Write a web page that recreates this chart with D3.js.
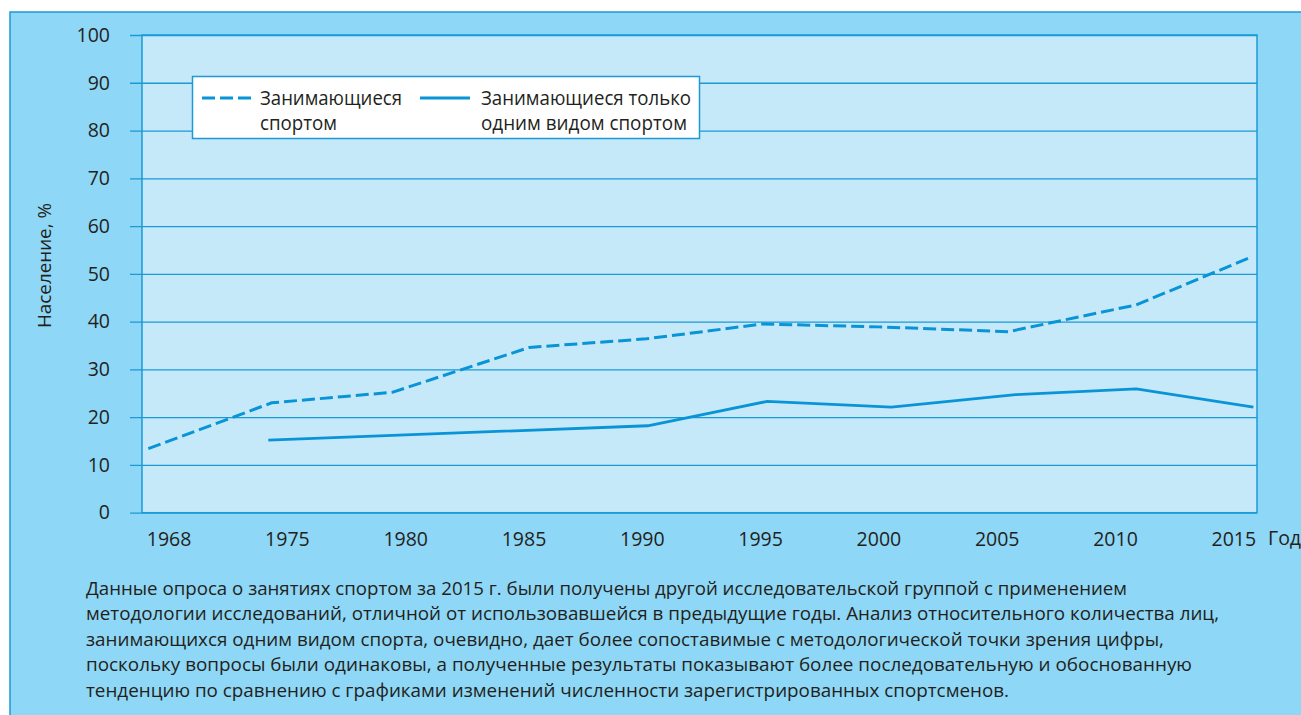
<!DOCTYPE html>
<html>
<head>
<meta charset="utf-8">
<script src="https://cdn.jsdelivr.net/npm/d3@7"></script>
<style>
  html, body { margin: 0; padding: 0; background: #fff; }
  svg { display: block; }
  text { font-family: "Open Sans", "Noto Sans", sans-serif; fill: #231f20; }
</style>
</head>
<body>
<svg id="chart" width="1301" height="715"></svg>
<script>
// tick labels of the year axis (evenly spaced in the original)
const yearTicks = [1968, 1975, 1980, 1985, 1990, 1995, 2000, 2005, 2010, 2015];
const valueTicks = [0, 10, 20, 30, 40, 50, 60, 70, 80, 90, 100];

// "Занимающиеся спортом" (dashed)
const allSportYears = [1966.8, 1974.1, 1979.45, 1985.25, 1990.2, 1995.1, 2000, 2005.5, 2010.9, 2015.65];
const allSportValues = [13.4, 23.0, 25.2, 34.6, 36.4, 39.5, 38.9, 37.9, 43.5, 53.3];

// "Занимающиеся только одним видом спортом" (solid)
const oneSportYears = [1973.9, 1990.25, 1995.3, 2000.55, 2005.8, 2010.9, 2015.85];
const oneSportValues = [15.2, 18.2, 23.3, 22.1, 24.7, 25.9, 22.1];

const legendLabels = [['Занимающиеся', 'спортом'], ['Занимающиеся только', 'одним видом спортом']];
const noteLines = [
  'Данные опроса о занятиях спортом за 2015 г. были получены другой исследовательской группой с применением',
  'методологии исследований, отличной от использовавшейся в предыдущие годы. Анализ относительного количества лиц,',
  'занимающихся одним видом спорта, очевидно, дает более сопоставимые с методологической точки зрения цифры,',
  'поскольку вопросы были одинаковы, а полученные результаты показывают более последовательную и обоснованную',
  'тенденцию по сравнению с графиками изменений численности зарегистрированных спортсменов.'
];

const blue = '#1b9ad6';
const lineBlue = '#0894d6';
const plot = {left: 142, right: 1257, top: 35, bottom: 512.7};

const svg = d3.select('#chart');

// outer panel
svg.append('rect')
  .attr('x', 10).attr('y', 12)
  .attr('width', 1320).attr('height', 720)
  .attr('fill', '#8ed7f6')
  .attr('stroke', blue).attr('stroke-width', 1.5);

svg.append('rect')
  .attr('x', plot.left).attr('y', plot.top)
  .attr('width', plot.right - plot.left).attr('height', plot.bottom - plot.top)
  .attr('fill', '#c6e9f9')
  .attr('stroke', blue).attr('stroke-width', 1.5);

const step = 118.3;
const x = d3.scaleLinear()
  .domain(yearTicks)
  .range(yearTicks.map((d, i) => 168.6 + i * step));
const y = d3.scaleLinear().domain([0, 100]).range([plot.bottom, plot.top]);

// y axis with full-width gridlines
const yAxis = svg.append('g')
  .attr('transform', 'translate(' + plot.right + ',0)')
  .call(d3.axisLeft(y).tickValues(valueTicks)
    .tickSize(plot.right - 130).tickPadding(20));
yAxis.select('.domain').remove();
yAxis.selectAll('line').attr('stroke', blue).attr('stroke-width', 1.3);
yAxis.selectAll('text')
  .attr('font-size', 19.5)
  .attr('font-family', '"Open Sans", sans-serif')
  .attr('fill', '#231f20');

const xAxis = svg.append('g')
  .attr('transform', 'translate(0,' + plot.bottom + ')')
  .call(d3.axisBottom(x).tickValues(yearTicks).tickFormat(d3.format('d'))
    .tickSize(0).tickPadding(19));
xAxis.select('.domain').remove();
xAxis.selectAll('text')
  .attr('font-size', 19.5)
  .attr('font-family', '"Open Sans", sans-serif')
  .attr('fill', '#231f20');

svg.append('text')
  .attr('x', 1268).attr('y', 545)
  .attr('font-size', 19.5)
  .text('Год');

svg.append('text')
  .attr('transform', 'translate(51,265.5) rotate(-90)')
  .attr('text-anchor', 'middle')
  .attr('font-size', 19)
  .attr('textLength', 125).attr('lengthAdjust', 'spacingAndGlyphs')
  .text('Население, %');

// series
const line = d3.line().x(d => x(d[0])).y(d => y(d[1]));
const allSport = d3.zip(allSportYears, allSportValues);
const oneSport = d3.zip(oneSportYears, oneSportValues);

svg.append('path')
  .datum(allSport)
  .attr('d', line)
  .attr('fill', 'none')
  .attr('stroke', lineBlue).attr('stroke-width', 3)
  .attr('stroke-dasharray', '13,5');

svg.append('path')
  .datum(oneSport)
  .attr('d', line)
  .attr('fill', 'none')
  .attr('stroke', lineBlue).attr('stroke-width', 2.8);

// legend
const legend = svg.append('g');
legend.append('rect')
  .attr('x', 192.5).attr('y', 76.5)
  .attr('width', 507).attr('height', 62)
  .attr('fill', '#fff')
  .attr('stroke', blue).attr('stroke-width', 1.5);

legend.append('line')
  .attr('x1', 202).attr('x2', 254).attr('y1', 98).attr('y2', 98)
  .attr('stroke', lineBlue).attr('stroke-width', 3)
  .attr('stroke-dasharray', '13,5');
legend.append('line')
  .attr('x1', 420).attr('x2', 470).attr('y1', 98).attr('y2', 98)
  .attr('stroke', lineBlue).attr('stroke-width', 2.8);

const legendX = [260, 481];
const legendWidths = [[142, 77], [210, 206]];
legendLabels.forEach(function(rows, i) {
  rows.forEach(function(row, j) {
    legend.append('text')
      .attr('x', legendX[i]).attr('y', 104.5 + j * 25)
      .attr('font-size', 19.5)
      .attr('textLength', legendWidths[i][j]).attr('lengthAdjust', 'spacingAndGlyphs')
      .text(row);
  });
});

// footnote
const noteEnds = [1127, 1219, 1164, 1192, 1009];
svg.append('g').selectAll('text')
  .data(noteLines)
  .join('text')
  .attr('x', 86)
  .attr('y', (d, i) => 594.5 + i * 25.5)
  .attr('font-size', 18)
  .attr('textLength', (d, i) => noteEnds[i] - 86)
  .attr('lengthAdjust', 'spacingAndGlyphs')
  .text(d => d);
</script>
</body>
</html>
